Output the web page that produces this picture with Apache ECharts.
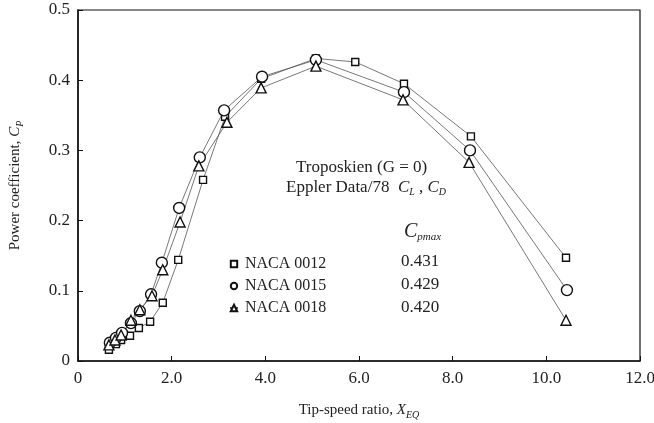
<!DOCTYPE html>
<html>
<head>
<meta charset="utf-8">
<script src="https://cdn.jsdelivr.net/npm/echarts@6/dist/echarts.min.js"></script>
<style>html,body{margin:0;padding:0;background:#fff}#c{width:654px;height:423px}</style>
</head>
<body>
<div id="c"></div>
<script>
// Data
const names = ['NACA 0012', 'NACA 0015', 'NACA 0018'];
const cpMax = ['0.431', '0.429', '0.420'];
const xTicks = [0, 2, 4, 6, 8, 10, 12];
const yTicks = [0, 0.1, 0.2, 0.3, 0.4, 0.5];

const tsr0012 = [0.66, 0.81, 0.92, 1.11, 1.30, 1.54, 1.81, 2.14, 2.67, 3.14, 3.91, 5.08, 5.92, 6.96, 8.39, 10.42];
const cp0012  = [0.016, 0.024, 0.030, 0.036, 0.047, 0.056, 0.083, 0.144, 0.258, 0.348, 0.402, 0.431, 0.426, 0.395, 0.320, 0.147];

const tsr0015 = [0.68, 0.81, 0.94, 1.13, 1.32, 1.56, 1.79, 2.16, 2.60, 3.12, 3.93, 5.08, 6.96, 8.37, 10.44];
const cp0015  = [0.026, 0.033, 0.040, 0.054, 0.071, 0.095, 0.140, 0.218, 0.290, 0.357, 0.405, 0.429, 0.383, 0.300, 0.101];

const tsr0018 = [0.66, 0.79, 0.92, 1.13, 1.32, 1.58, 1.81, 2.18, 2.58, 3.18, 3.91, 5.08, 6.94, 8.35, 10.42];
const cp0018  = [0.023, 0.030, 0.037, 0.058, 0.073, 0.093, 0.130, 0.198, 0.278, 0.340, 0.389, 0.420, 0.372, 0.283, 0.058];

const FONT = '"Liberation Serif", "DejaVu Serif", serif';
const pair = (xs, ys) => xs.map((x, i) => [x, ys[i]]);
const symbols = ['rect', 'circle', 'triangle'];
const sizes = [7, 11, 10];
const seriesData = [pair(tsr0012, cp0012), pair(tsr0015, cp0015), pair(tsr0018, cp0018)];

const chart = echarts.init(document.getElementById('c'));
const sub = { fontFamily: FONT, fontSize: 10, fontStyle: 'italic', color: '#222', padding: [9, 0, 0, 0] };
chart.setOption({
  animation: false,
  backgroundColor: '#fff',
  grid: { left: 78, right: 14, top: 10, bottom: 62, containLabel: false, outerBoundsMode: 'none',
          show: true, borderColor: '#111', borderWidth: 1.2, backgroundColor: 'transparent' },
  xAxis: {
    type: 'value', min: xTicks[0], max: xTicks[xTicks.length - 1], interval: 2,
    axisLine: { lineStyle: { color: '#111', width: 1.5 } },
    axisTick: { inside: true, length: 5, lineStyle: { color: '#111' } },
    splitLine: { show: false },
    axisLabel: { fontFamily: FONT, fontSize: 17, color: '#222', margin: 9,
      formatter: v => v === 0 ? '0' : v.toFixed(1) },
    name: '{n|Tip-speed ratio, }{i|X}{s|EQ}',
    nameLocation: 'middle', nameGap: 40,
    nameTextStyle: { rich: {
      n: { fontFamily: FONT, fontSize: 15, color: '#222' },
      i: { fontFamily: FONT, fontSize: 15, fontStyle: 'italic', color: '#222' },
      s: sub } }
  },
  yAxis: {
    type: 'value', min: yTicks[0], max: yTicks[yTicks.length - 1], interval: 0.1,
    axisLine: { lineStyle: { color: '#111', width: 1.5 } },
    axisTick: { inside: true, length: 5, lineStyle: { color: '#111' } },
    splitLine: { show: false },
    axisLabel: { fontFamily: FONT, fontSize: 17, color: '#222', margin: 8,
      formatter: v => v === 0 ? '0' : v.toFixed(1) },
    name: '{n|Power coefficient, }{i|C}{s|P}',
    nameLocation: 'middle', nameGap: 53,
    nameTextStyle: { rich: {
      n: { fontFamily: FONT, fontSize: 15, color: '#222' },
      i: { fontFamily: FONT, fontSize: 15, fontStyle: 'italic', color: '#222' },
      s: sub } }
  },
  legend: {
    orient: 'vertical', left: 224, top: 251, itemGap: 6, itemWidth: 8, itemHeight: 8,
    data: names,
    textStyle: { fontFamily: FONT, fontSize: 16, color: '#222', padding: [0, 0, 0, 2] },
    selectedMode: false
  },
  series: names.map((n, k) => ({
    name: n, type: 'line', data: seriesData[k],
    symbol: symbols[k], symbolSize: sizes[k], showSymbol: true,
    lineStyle: { color: '#555', width: 0.8 },
    itemStyle: { color: '#fff', borderColor: '#111', borderWidth: 1.4 },
    emphasis: { disabled: true }
  })),
  graphic: [
    { type: 'text', left: 296, top: 159, style: { text: 'Troposkien (G = 0)', fontFamily: FONT, fontSize: 17, fill: '#222' } },
    { type: 'text', left: 286, top: 179, style: {
      text: '{n|Eppler Data/78  }{i|C}{s|L}{n| , }{i|C}{s|D}',
      rich: { n: { fontFamily: FONT, fontSize: 17, fill: '#222' },
              i: { fontFamily: FONT, fontSize: 17, fontStyle: 'italic', fill: '#222' },
              s: { fontFamily: FONT, fontSize: 10, fontStyle: 'italic', fill: '#222', padding: [9, 0, 0, 0] } } } },
    { type: 'text', left: 404, top: 222, style: {
      text: '{i|C}{s|pmax}',
      rich: { i: { fontFamily: FONT, fontSize: 20, fontStyle: 'italic', fill: '#222' },
              s: { fontFamily: FONT, fontSize: 11, fontStyle: 'italic', fill: '#222', padding: [11, 0, 0, 0] } } } },
    ...cpMax.map((v, i) => ({ type: 'text', left: 401, top: 253 + i * 23,
      style: { text: v, fontFamily: FONT, fontSize: 17, fill: '#222' } }))
  ]
});
</script>
</body>
</html>
